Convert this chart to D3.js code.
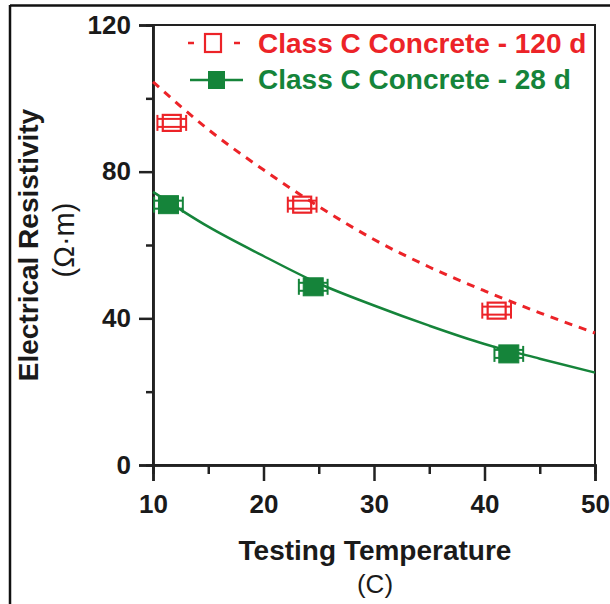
<!DOCTYPE html>
<html>
<head>
<meta charset="utf-8">
<script src="https://cdn.jsdelivr.net/npm/d3@7"></script>
<style>
  body { margin: 0; background: #fff; }
  svg { display: block; }
  text { font-family: "Liberation Sans", Arial, sans-serif; }
</style>
</head>
<body>
<div id="chart"></div>
<script>
// measured points (temperature C, resistivity ohm-m), x error in C
var temps120 = [11.7, 23.5, 41.1];
var resist120 = [93.3, 71.0, 42.1];
var xErr120 = [1.3, 1.3, 1.3];

var temps28 = [11.4, 24.5, 42.2];
var resist28 = [71.0, 48.6, 30.3];
var xErr28 = [1.3, 1.3, 1.3];

// fitted trend lines
var fitTemps = [10, 15, 20, 25, 30, 35, 40, 45, 50];
var fit120 = [104.5, 91.5, 80.5, 70.5, 61.5, 54.0, 47.5, 41.5, 36.0];
var fit28 = [74.5, 65.0, 57.0, 49.5, 43.5, 38.0, 33.0, 29.0, 25.2];

var xMajor = [10, 20, 30, 40, 50];
var xMinor = [15, 25, 35, 45];
var yMajor = [0, 40, 80, 120];
var yMinor = [20, 60, 100];

var seriesNames = ['Class C Concrete - 120 d', 'Class C Concrete - 28 d'];

var RED = '#ec2328',
  GREEN = '#15843a',
  W = 610,
  H = 604;

var svg = d3.select('#chart').append('svg')
  .attr('width', W)
  .attr('height', H);

// outer figure frame (top + left only visible)
svg.append('line').attr('x1', 10).attr('x2', W).attr('y1', 5.5).attr('y2', 5.5)
  .attr('stroke', '#111').attr('stroke-width', 2.5);
svg.append('line').attr('x1', 10).attr('x2', 10).attr('y1', 5).attr('y2', H)
  .attr('stroke', '#111').attr('stroke-width', 2.5);

var x = d3.scaleLinear().domain([10, 50]).range([153, 595]);
var y = d3.scaleLinear().domain([0, 120]).range([465, 25]);

// plot frame
svg.append('rect')
  .attr('x', x(10)).attr('y', y(120))
  .attr('width', x(50) - x(10)).attr('height', y(0) - y(120))
  .attr('fill', 'none').attr('stroke', '#222').attr('stroke-width', 2);

// axes
svg.append('g').attr('transform', 'translate(0,' + y(0) + ')')
  .call(d3.axisBottom(x).tickValues(xMajor).tickSize(16).tickPadding(14).tickFormat(d3.format('d')));
svg.append('g').attr('transform', 'translate(0,' + y(0) + ')')
  .call(d3.axisBottom(x).tickValues(xMinor).tickSize(9).tickFormat(''));

svg.append('g').attr('transform', 'translate(' + x(10) + ',0)')
  .call(d3.axisLeft(y).tickValues(yMajor).tickSize(14).tickPadding(8));
svg.append('g').attr('transform', 'translate(' + x(10) + ',0)')
  .call(d3.axisLeft(y).tickValues(yMinor).tickSize(7).tickFormat(''));

svg.selectAll('.domain').attr('stroke', '#222').attr('stroke-width', 2.5);
svg.selectAll('.tick line').attr('stroke', '#222').attr('stroke-width', 2.5);
svg.selectAll('.tick text')
  .attr('fill', '#1a1a1a')
  .style('font-family', '"Liberation Sans", Arial, sans-serif')
  .style('font-size', '26px')
  .style('font-weight', 'bold');

// axis titles
svg.append('text')
  .attr('x', 375).attr('y', 560)
  .attr('text-anchor', 'middle')
  .style('font-size', '28px').style('font-weight', 'bold').attr('fill', '#1a1a1a')
  .text('Testing Temperature');
svg.append('text')
  .attr('x', 375).attr('y', 593)
  .attr('text-anchor', 'middle')
  .style('font-size', '26px').attr('fill', '#1a1a1a')
  .text('(C)');

svg.append('text')
  .attr('transform', 'translate(38,245) rotate(-90)')
  .attr('text-anchor', 'middle')
  .style('font-size', '28px').style('font-weight', 'bold').attr('fill', '#1a1a1a')
  .text('Electrical Resistivity');
svg.append('text')
  .attr('transform', 'translate(74,240) rotate(-90)')
  .attr('text-anchor', 'middle')
  .style('font-size', '29px').attr('fill', '#1a1a1a')
  .text('(\u03A9\u00B7m)');

// fitted curves
var line = d3.line()
  .x(function(d) { return x(d[0]); })
  .y(function(d) { return y(d[1]); })
  .curve(d3.curveMonotoneX);

svg.append('path')
  .datum(d3.zip(fitTemps, fit120))
  .attr('d', line)
  .attr('fill', 'none')
  .attr('stroke', RED)
  .attr('stroke-width', 3)
  .attr('stroke-dasharray', '8,7');

svg.append('path')
  .datum(d3.zip(fitTemps, fit28))
  .attr('d', line)
  .attr('fill', 'none')
  .attr('stroke', GREEN)
  .attr('stroke-width', 2.5);

// error bars + markers
function drawPoints(ts, rs, errs, color, filled) {
  var pts = d3.zip(ts, rs, errs);
  var g = svg.append('g').selectAll('g').data(pts).enter().append('g')
    .attr('transform', function(d) { return 'translate(' + x(d[0]) + ',' + y(d[1]) + ')'; });

  // double horizontal whiskers
  [-4, 4].forEach(function(off) {
    g.append('line')
      .attr('x1', function(d) { return x(d[0] - d[2]) - x(d[0]); })
      .attr('x2', function(d) { return x(d[0] + d[2]) - x(d[0]); })
      .attr('y1', off).attr('y2', off)
      .attr('stroke', color).attr('stroke-width', 2);
  });
  // caps
  [-1, 1].forEach(function(s) {
    g.append('line')
      .attr('x1', function(d) { return x(d[0] + s * d[2]) - x(d[0]); })
      .attr('x2', function(d) { return x(d[0] + s * d[2]) - x(d[0]); })
      .attr('y1', -8).attr('y2', 8)
      .attr('stroke', color).attr('stroke-width', 2);
  });

  g.append('rect')
    .attr('x', filled ? -10 : -9).attr('y', filled ? -9 : -8)
    .attr('width', filled ? 20 : 18).attr('height', filled ? 18 : 16)
    .attr('fill', filled ? color : 'none')
    .attr('stroke', color)
    .attr('stroke-width', filled ? 1 : 2.2);
}

drawPoints(temps120, resist120, xErr120, RED, false);
drawPoints(temps28, resist28, xErr28, GREEN, true);

// legend
var leg = svg.append('g');
leg.append('path')
  .attr('d', 'M188,43h6M234,43h6')
  .attr('stroke', RED).attr('stroke-width', 2.5);
leg.append('rect')
  .attr('x', 205).attr('y', 34).attr('width', 16).attr('height', 18)
  .attr('fill', '#fff').attr('stroke', RED).attr('stroke-width', 2.2);
leg.append('text')
  .attr('x', 258).attr('y', 53)
  .style('font-size', '28px').style('font-weight', 'bold')
  .attr('fill', RED)
  .text(seriesNames[0]);

leg.append('line')
  .attr('x1', 190).attr('x2', 243).attr('y1', 80).attr('y2', 80)
  .attr('stroke', GREEN).attr('stroke-width', 2.5);
leg.append('rect')
  .attr('x', 208).attr('y', 71).attr('width', 17).attr('height', 18)
  .attr('fill', GREEN);
leg.append('text')
  .attr('x', 258).attr('y', 89)
  .style('font-size', '28px').style('font-weight', 'bold')
  .attr('fill', GREEN)
  .text(seriesNames[1]);
</script>
</body>
</html>
